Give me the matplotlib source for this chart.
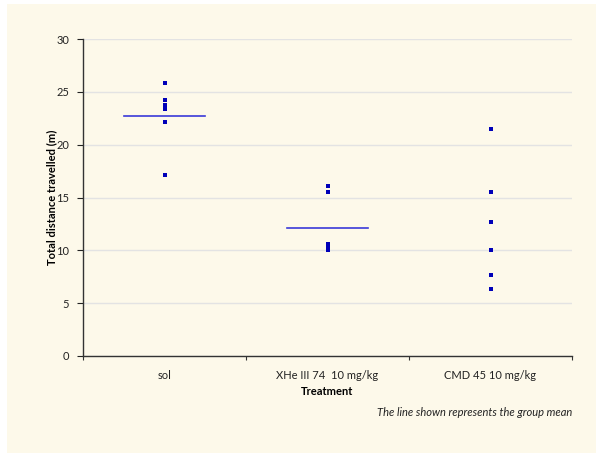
import numpy as np
import matplotlib
matplotlib.use('Agg')
import matplotlib.pyplot as plt
from matplotlib.patches import Rectangle

plt.rcParams['font.family'] = ['Lato', 'DejaVu Sans']

groups = ["sol", "XHe III 74  10 mg/kg", "CMD 45 10 mg/kg"]
sol = [25.8, 24.2, 23.8, 23.4, 22.1, 17.1]
xhe = [16.1, 15.5, 10.6, 10.4, 10.2, 10.0]
cmd = [21.5, 15.5, 12.7, 10.0, 7.7, 6.3]
show_mean = [True, True, False]

bg = '#fdf9ea'
fig = plt.figure(figsize=(5.96, 4.53), dpi=100)
fig.patch.set_facecolor('white')
fig.patches.append(Rectangle((7 / 596, 0), 1, 1 - 4 / 453, transform=fig.transFigure,
                             facecolor=bg, edgecolor='none', zorder=-10))
ax = fig.add_axes([83 / 596, 1 - 356 / 453, (572 - 83) / 596, (356 - 39) / 453])
ax.set_facecolor(bg)

for i, vals in enumerate([sol, xhe, cmd]):
    x = np.full(len(vals), i + 0.5)
    ax.scatter(x, vals, marker='s', s=12, color='#0000b8', zorder=3, linewidths=0)
    if show_mean[i]:
        m = np.mean(vals)
        ax.plot([i + 0.25, i + 0.75], [m, m], color='#3a3ad8', lw=1.2, zorder=2)

ax.set_xlim(0, 3)
ax.set_ylim(0, 30)
ax.set_yticks(range(0, 31, 5))
ax.set_xticks([0, 1, 2, 3])
ax.set_xticklabels([])
ax.set_xticks([0.5, 1.5, 2.5], minor=True)
ax.set_xticklabels(groups, minor=True)
ax.tick_params(axis='x', which='minor', length=0, pad=10, labelsize=8, colors='#222222')
ax.tick_params(axis='x', which='major', length=3, direction='out', color='#333333')
ax.tick_params(axis='y', length=4, labelsize=8, colors='#222222', pad=6)
ax.grid(axis='y', color='#e3e3e3', lw=1)
ax.set_axisbelow(True)
for s in ['top', 'right']:
    ax.spines[s].set_visible(False)
for s in ['left', 'bottom']:
    ax.spines[s].set_color('#333333')
    ax.spines[s].set_linewidth(1)

ax.set_ylabel('Total distance travelled (m)', fontsize=8, fontweight='bold')
ax.yaxis.set_label_coords(-0.053, 0.5)
ax.set_xlabel('Treatment', fontsize=8, fontweight='bold', labelpad=4)
fig.text(572 / 596, 1 - 412 / 453, 'The line shown represents the group mean',
         ha='right', va='center', fontsize=8, style='italic', color='#222222')

fig.savefig('out.png', dpi=100, facecolor=fig.get_facecolor())
